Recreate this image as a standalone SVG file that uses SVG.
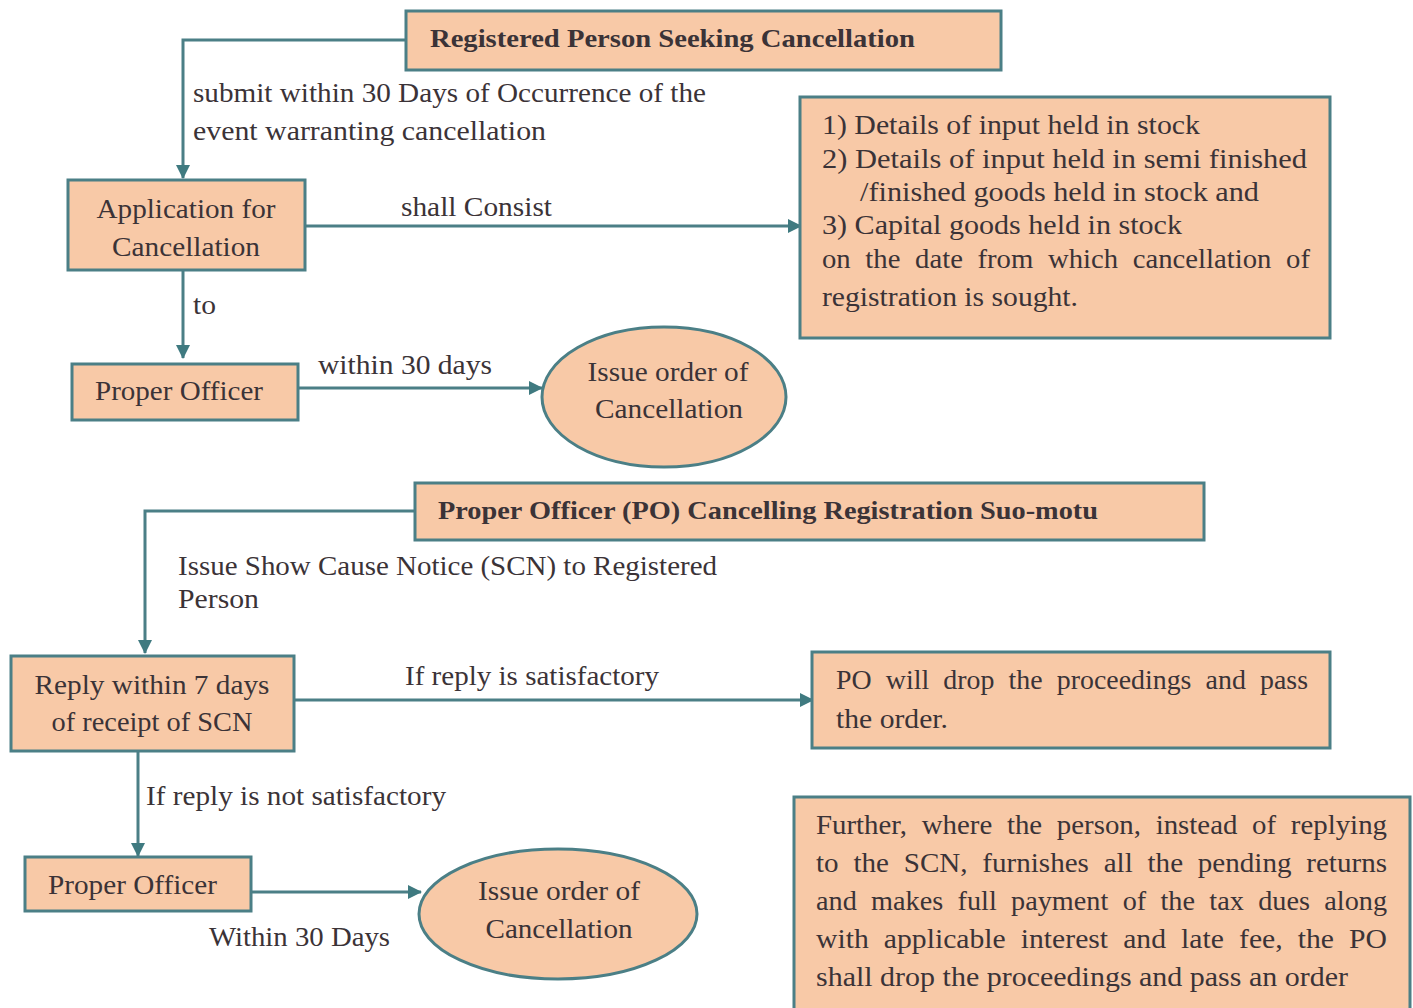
<svg xmlns="http://www.w3.org/2000/svg" width="1413" height="1008" viewBox="0 0 1413 1008">
  <style>
    .box { fill: #F8C9A7; stroke: #4B7F86; stroke-width: 3; }
    .t { font-family: "Liberation Serif", "DejaVu Serif", serif; font-size: 27px; fill: #3B3337; }
    .b { font-weight: bold; font-size: 26px; }
    .c { text-anchor: middle; }
    .j { word-spacing: 7px; }
    .wire { fill: none; stroke: #4B7F86; stroke-width: 3; }
  </style>
  <defs>
    <marker id="arrow" viewBox="0 0 14 14" refX="13" refY="7" markerWidth="14" markerHeight="14" markerUnits="userSpaceOnUse" orient="auto">
      <path d="M0,0 L14,7 L0,14 z" fill="#3F7A80"/>
    </marker>
  </defs>
  <rect width="1413" height="1008" fill="#FFFFFF"/>

  <!-- connectors and their labels -->
  <g id="connectors">
    <path class="wire" d="M406,40 H183 V178" marker-end="url(#arrow)"/>
    <path class="wire" d="M305,226 H801" marker-end="url(#arrow)"/>
    <path class="wire" d="M183,270 V358" marker-end="url(#arrow)"/>
    <path class="wire" d="M298,388 H542" marker-end="url(#arrow)"/>
    <path class="wire" d="M415,511 H145 V653" marker-end="url(#arrow)"/>
    <path class="wire" d="M294,700 H813" marker-end="url(#arrow)"/>
    <path class="wire" d="M138,751 V856" marker-end="url(#arrow)"/>
    <path class="wire" d="M251,892 H421" marker-end="url(#arrow)"/>

    <text class="t" x="193" y="102" textLength="513" lengthAdjust="spacingAndGlyphs">submit within 30 Days of Occurrence of the</text>
    <text class="t" x="193" y="140" textLength="353" lengthAdjust="spacingAndGlyphs">event warranting cancellation</text>
    <text class="t" x="401" y="216" textLength="151" lengthAdjust="spacingAndGlyphs">shall Consist</text>
    <text class="t" x="193" y="314" textLength="23" lengthAdjust="spacingAndGlyphs">to</text>
    <text class="t" x="318" y="374" textLength="174" lengthAdjust="spacingAndGlyphs">within 30 days</text>
    <text class="t" x="178" y="575" textLength="539" lengthAdjust="spacingAndGlyphs">Issue Show Cause Notice (SCN) to Registered</text>
    <text class="t" x="178" y="608" textLength="81" lengthAdjust="spacingAndGlyphs">Person</text>
    <text class="t" x="405" y="685" textLength="254" lengthAdjust="spacingAndGlyphs">If reply is satisfactory</text>
    <text class="t" x="146" y="805" textLength="300" lengthAdjust="spacingAndGlyphs">If reply is not satisfactory</text>
    <text class="t" x="209" y="946" textLength="181" lengthAdjust="spacingAndGlyphs">Within 30 Days</text>
  </g>

  <g id="registered-person">
    <rect class="box" x="406" y="11" width="595" height="59"/>
    <text class="t b" x="430" y="47" textLength="485" lengthAdjust="spacingAndGlyphs">Registered Person Seeking Cancellation</text>
  </g>

  <g id="application">
    <rect class="box" x="68" y="180" width="237" height="90"/>
    <text class="t c" x="186" y="218" textLength="179" lengthAdjust="spacingAndGlyphs">Application for</text>
    <text class="t c" x="186" y="256" textLength="148" lengthAdjust="spacingAndGlyphs">Cancellation</text>
  </g>

  <g id="details">
    <rect class="box" x="800" y="97" width="530" height="241"/>
    <text class="t" x="822" y="134" textLength="378" lengthAdjust="spacingAndGlyphs">1)  Details of input held in stock</text>
    <text class="t" x="822" y="168" textLength="485" lengthAdjust="spacingAndGlyphs">2)  Details of input held in semi finished</text>
    <text class="t" x="860" y="201" textLength="399" lengthAdjust="spacingAndGlyphs">/finished goods held in stock and</text>
    <text class="t" x="822" y="234" textLength="360" lengthAdjust="spacingAndGlyphs">3)  Capital goods held in stock</text>
    <text class="t j" x="822" y="268" textLength="488" lengthAdjust="spacingAndGlyphs">on the date from which cancellation of</text>
    <text class="t" x="822" y="306" textLength="256" lengthAdjust="spacingAndGlyphs">registration is sought.</text>
  </g>

  <g id="proper-officer-1">
    <rect class="box" x="72" y="364" width="226" height="56"/>
    <text class="t" x="95" y="400" textLength="168" lengthAdjust="spacingAndGlyphs">Proper Officer</text>
  </g>

  <g id="issue-order-1">
    <ellipse class="box" cx="664" cy="397" rx="122" ry="70"/>
    <text class="t c" x="668" y="381" textLength="161" lengthAdjust="spacingAndGlyphs">Issue order of</text>
    <text class="t c" x="669" y="418" textLength="148" lengthAdjust="spacingAndGlyphs">Cancellation</text>
  </g>

  <g id="po-suo-motu">
    <rect class="box" x="415" y="483" width="789" height="57"/>
    <text class="t b" x="438" y="519" textLength="660" lengthAdjust="spacingAndGlyphs">Proper Officer (PO) Cancelling Registration Suo-motu</text>
  </g>

  <g id="reply">
    <rect class="box" x="11" y="656" width="283" height="95"/>
    <text class="t c" x="152" y="694" textLength="235" lengthAdjust="spacingAndGlyphs">Reply within 7 days</text>
    <text class="t c" x="152" y="731" textLength="201" lengthAdjust="spacingAndGlyphs">of receipt of SCN</text>
  </g>

  <g id="drop-proceedings">
    <rect class="box" x="812" y="652" width="518" height="96"/>
    <text class="t j" x="836" y="689" textLength="472" lengthAdjust="spacingAndGlyphs">PO will drop the proceedings and pass</text>
    <text class="t" x="836" y="728" textLength="112" lengthAdjust="spacingAndGlyphs">the order.</text>
  </g>

  <g id="proper-officer-2">
    <rect class="box" x="25" y="857" width="226" height="54"/>
    <text class="t" x="48" y="894" textLength="169" lengthAdjust="spacingAndGlyphs">Proper Officer</text>
  </g>

  <g id="issue-order-2">
    <ellipse class="box" cx="558" cy="914" rx="139" ry="65"/>
    <text class="t c" x="559" y="900" textLength="162" lengthAdjust="spacingAndGlyphs">Issue order of</text>
    <text class="t c" x="559" y="938" textLength="147" lengthAdjust="spacingAndGlyphs">Cancellation</text>
  </g>

  <g id="further-note">
    <rect class="box" x="794" y="797" width="616" height="214"/>
    <text class="t j" x="816" y="834" textLength="571" lengthAdjust="spacingAndGlyphs">Further, where the person, instead of replying</text>
    <text class="t j" x="816" y="872" textLength="571" lengthAdjust="spacingAndGlyphs">to the SCN, furnishes all the pending returns</text>
    <text class="t j" x="816" y="910" textLength="571" lengthAdjust="spacingAndGlyphs">and makes full payment of the tax dues along</text>
    <text class="t j" x="816" y="948" textLength="571" lengthAdjust="spacingAndGlyphs">with applicable interest and late fee, the PO</text>
    <text class="t" x="816" y="986" textLength="532" lengthAdjust="spacingAndGlyphs">shall drop the proceedings and pass an order</text>
  </g>
</svg>
